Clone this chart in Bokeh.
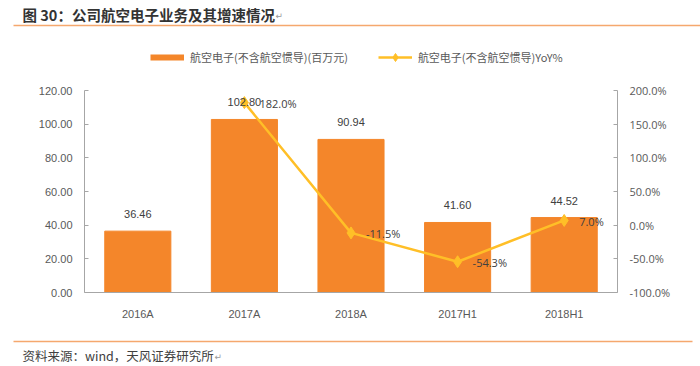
from bokeh.plotting import figure
from bokeh.layouts import column
from bokeh.models import (Range1d, LinearAxis, FactorRange, ColumnDataSource, LabelSet, Label,
                          Legend, LegendItem, FixedTicker, PrintfTickFormatter)
from bokeh.core.properties import value
from bokeh.embed import file_html
from bokeh.resources import INLINE

# ---- data ----
categories = ["2016A", "2017A", "2018A", "2017H1", "2018H1"]
revenue = [36.46, 102.80, 90.94, 41.60, 44.52]
yoy_categories = ["2017A", "2018A", "2017H1", "2018H1"]
yoy = [182.0, -11.5, -54.3, 7.0]
left_ticks = [0, 20, 40, 60, 80, 100, 120]
right_ticks = [-100, -50, 0, 50, 100, 150, 200]

title_text = "图 30：公司航空电子业务及其增速情况"
source_text = "资料来源：wind，天风证券研究所"
bar_name = "航空电子(不含航空惯导)(百万元)"
line_name = "航空电子(不含航空惯导)YoY%"

ORANGE = "#F4862A"
YELLOW = "#FFBF27"
RULE = "#F5A86E"
TXT = "#595959"
CJK = "Noto Sans CJK SC"
W = 700
NAN = float("nan")


def blank(height):
    f = figure(width=W, height=height, x_range=Range1d(0, W), y_range=Range1d(height, 0),
               x_axis_type=None, y_axis_type=None, output_backend="svg", toolbar_location=None,
               min_border=0, min_border_left=0, min_border_right=0, min_border_top=0,
               min_border_bottom=0)
    f.title_location = None
    f.outline_line_color = None
    f.xgrid.grid_line_color = None
    f.ygrid.grid_line_color = None
    f.frame_align = False
    return f


# ---------- header ----------
HH = 70
hdr = blank(HH)
hdr.add_layout(Label(x=22, y=14, text=title_text, text_font=CJK, text_font_size="14.5px",
                     text_font_style="bold", text_color="#333333", text_baseline="middle"))
hdr.add_layout(Label(x=275, y=15, text="↵", text_font="DejaVu Sans", text_font_size="9px",
                     text_color="#9A9A9A", text_baseline="middle"))
hdr.segment(x0=[13], y0=[25], x1=[W], y1=[25], line_color=RULE, line_width=1.5)
leg_bar = hdr.line(x=[NAN], y=[NAN], line_color=ORANGE, line_width=6)
leg_line = hdr.line(x=[NAN], y=[NAN], line_color=YELLOW, line_width=2.5)
leg_pts = hdr.scatter(x=[NAN], y=[NAN], marker="diamond", fill_color=YELLOW, line_color=YELLOW)
legend = Legend(items=[LegendItem(label=bar_name, renderers=[leg_bar]),
                       LegendItem(label=line_name, renderers=[leg_line, leg_pts])],
                location=(150, HH - 57 - 10), orientation="horizontal",
                border_line_color=None, background_fill_alpha=0,
                padding=0, margin=0, spacing=30, glyph_width=34, glyph_height=20,
                label_standoff=6, label_height=20,
                label_text_font=CJK, label_text_font_size="11px", label_text_color=TXT)
hdr.add_layout(legend)

# ---------- main chart ----------
src = ColumnDataSource(dict(cat=categories, val=revenue, lab=[f"{v:.2f}" for v in revenue]))
src2 = ColumnDataSource(dict(cat=yoy_categories, yoy=yoy, lab=[f"{v:.1f}%" for v in yoy]))

MH = 252
p = figure(width=W, height=MH,
           x_range=FactorRange(factors=categories, range_padding=0),
           y_range=Range1d(0, 120),
           output_backend="svg", toolbar_location=None,
           min_border_left=84, min_border_right=83, min_border_top=20, min_border_bottom=24)
p.title_location = None
p.outline_line_color = None
p.xgrid.grid_line_color = None
p.ygrid.grid_line_color = None
p.frame_align = False
p.extra_y_ranges = {"yoy": Range1d(-100, 200)}

p.vbar(x="cat", top="val", width=0.62, source=src, fill_color=ORANGE, line_color=ORANGE)
p.line(x="cat", y="yoy", source=src2, y_range_name="yoy", line_color=YELLOW, line_width=2.5)
p.scatter(x="cat", y="yoy", source=src2, y_range_name="yoy", marker="diamond", size=12,
          fill_color=YELLOW, line_color=YELLOW)

ax_col = "#A6A6A6"
yl = p.yaxis[0]
yl.ticker = FixedTicker(ticks=left_ticks)
yl.formatter = PrintfTickFormatter(format="%.2f")
yr = LinearAxis(y_range_name="yoy", ticker=FixedTicker(ticks=right_ticks),
                formatter=PrintfTickFormatter(format="%.1f%%"))
p.add_layout(yr, "right")
for ax in (yl, yr):
    ax.axis_line_color = ax_col
    ax.major_tick_line_color = ax_col
    ax.major_tick_in = 4
    ax.major_tick_out = 0
    ax.minor_tick_line_color = None
    ax.major_label_text_font_size = "11px"
    ax.major_label_text_color = TXT
    ax.major_label_standoff = 12
yl.major_label_text_font = "Liberation Sans"
yr.major_label_text_font = "Open Sans"

xa = p.xaxis[0]
xa.axis_line_color = ax_col
xa.major_tick_line_color = None
xa.minor_tick_line_color = None
xa.major_label_text_font = "Liberation Sans"
xa.major_label_text_font_size = "11px"
xa.major_label_text_color = TXT
xa.major_label_standoff = 9

p.add_layout(LabelSet(x="cat", y="val", text="lab", source=src, y_offset=17,
                      text_align="center", text_baseline="middle",
                      text_font=value("Liberation Sans"), text_font_size="11px", text_color="#404040"))
p.add_layout(LabelSet(x="cat", y="yoy", text="lab", source=src2, y_range_name="yoy",
                      x_offset=15, y_offset=-1, text_align="left", text_baseline="middle",
                      text_font=value("Open Sans"), text_font_size="11px", text_color="#404040"))

# ---------- footer ----------
FH = 366 - HH - MH
ftr = blank(FH)
y0 = HH + MH
ftr.segment(x0=[13], y0=[341 - y0], x1=[692], y1=[341 - y0], line_color=RULE, line_width=1.5)
ftr.add_layout(Label(x=22, y=355 - y0, text=source_text, text_font=CJK, text_font_size="12.5px",
                     text_color="#404040", text_baseline="middle"))
ftr.add_layout(Label(x=214, y=356 - y0, text="↵", text_font="DejaVu Sans", text_font_size="9px",
                     text_color="#9A9A9A", text_baseline="middle"))

layout = column(hdr, p, ftr, spacing=0)
open("out.html", "w").write(file_html(layout, INLINE))
